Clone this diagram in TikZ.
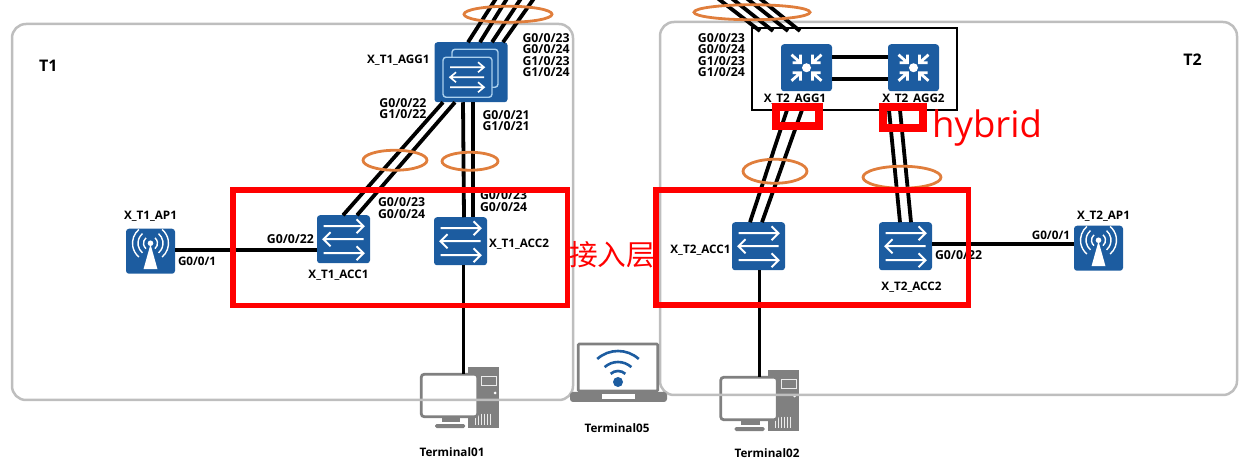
\documentclass[tikz,border=0pt]{standalone}
\usepackage{fontspec}
\setmainfont{Open Sans}
\newfontfamily\cjkfont{Noto Sans CJK SC}
\usepackage{xcolor}
\usetikzlibrary{shapes.geometric, positioning, backgrounds}
\definecolor{devblue}{RGB}{28,92,160}
\definecolor{paleblue}{RGB}{170,208,238}
\definecolor{pcgray}{RGB}{128,128,128}
\definecolor{areagray}{RGB}{190,190,190}
\definecolor{ringorange}{RGB}{224,126,60}

\begin{document}
\begin{tikzpicture}[
        x=1pt, y=1pt,
        area/.style={rectangle, inner sep=0pt, outer sep=0pt, draw=areagray, line width=2.5pt, rounded corners=14pt},
        redbox/.style={rectangle, inner sep=0pt, outer sep=0pt, draw=red},
        frame/.style={rectangle, inner sep=0pt, outer sep=0pt, draw=black, line width=2pt},
        switch/.style={rectangle, rounded corners=3pt, inner sep=0pt, outer sep=0pt, minimum width=53pt, minimum height=48pt, fill=devblue},
        router/.style={switch, minimum width=51pt, minimum height=47pt},
        stack/.style={switch, minimum width=73pt, minimum height=60pt},
        wifi/.style={switch, minimum width=49pt, minimum height=45pt},
        monitor/.style={rectangle, rounded corners=3pt, inner sep=0pt, outer sep=0pt, minimum width=56.5pt, minimum height=42.5pt, draw=pcgray, fill=white, line width=2.8pt},
        laptop/.style={monitor, rounded corners=1pt, minimum width=79.5pt, minimum height=47pt},
        ring/.style={ellipse, inner sep=0pt, outer sep=0pt, draw=ringorange, line width=2.8pt},
        ports/.style={inner sep=0pt, outer sep=0pt, align=center, font=\fontsize{12.3}{11.5}\selectfont\bfseries},
        lbl/.style={ports, text height=8.5pt, text depth=0pt, font=\fontsize{11.7}{11.5}\selectfont\bfseries},
        link/.style={line width=3.8pt},
        pics/swarrows/.style={code={
            \foreach \y/\d in {13/1, 0/-1, -14/1}
                \draw[white, line width=2pt] ({-20*\d},\y) -- ({20*\d},\y) ({13*\d},{\y+7}) -- ({20*\d},\y) -- ({13*\d},{\y-7});
        }},
        pics/stackicon/.style={code={
            \draw[paleblue, line width=1.4pt, rounded corners=3pt] (-19,-15) rectangle (27,23);
            \draw[paleblue, line width=1.4pt, rounded corners=3pt, fill=devblue] (-28,-25) rectangle (21,15);
            \foreach \y/\d in {5/1, -5/-1, -15/1}
                \draw[white, line width=1.6pt] ({-4-17*\d},\y) -- ({-4+17*\d},\y) ({-4+11*\d},{\y+5}) -- ({-4+17*\d},\y) -- ({-4+11*\d},{\y-5});
        }},
        pics/routericon/.style={code={
            \fill[white] (0,0) circle (4.5);
            \foreach \x/\y in {-1/1, 1/1, -1/-1, 1/-1}
                \draw[white, line width=2.8pt] ({15*\x},{13*\y}) -- ({6*\x},{5*\y}) ({14*\x},{5*\y}) -- ({6*\x},{5*\y}) -- ({6*\x},{13*\y});
        }},
        pics/apicon/.style={code={
            \fill[white] (-7,-18) -- (7,-18) -- (0,7) -- cycle;
            \fill[white] (0,8) circle (2.8);
            \foreach \r in {7, 12.5, 18} {
                \draw[white, line width=1.4pt] (0,8) ++ (-50:\r) arc[start angle=-50, end angle=50, radius=\r];
                \draw[white, line width=1.4pt] (0,8) ++ (130:\r) arc[start angle=130, end angle=230, radius=\r];
            }
        }},
        pics/pctower/.style={code={
            \fill[pcgray] (18.5,-32.5) rectangle (49.5,28.5);
            \draw[white!85!pcgray, line width=0.8pt] (32,10.5) rectangle (47,19);
            \fill[white] (45.5,2.5) circle (1.5);
            \foreach \x in {26, 29, ..., 42}
                \draw[white!85!pcgray, line width=1pt] (\x,-18) -- (\x,-29);
            \fill[pcgray] (-8,-26.5) rectangle (10.5,-22.5);
            \fill[pcgray, rounded corners=1.5pt] (-14.5,-32.5) rectangle (15.5,-28.5);
        }},
        pics/laptopicon/.style={code={
            \fill[pcgray, rounded corners=3pt] (-48,-24.5) -- (49,-24.5) -- (49,-34.5) -- (-48,-34.5) -- cycle;
            \fill[white] (-16,-31.5) rectangle (17,-26.5);
            \fill[devblue] (0,-14.5) circle (5);
            \foreach \r in {11, 20, 31}
                \draw[devblue, line width=2.6pt] (0,-14.5) ++ (132:\r) arc[start angle=132, end angle=48, radius=\r];
        }}
    ]

    \useasboundingbox (0,0) rectangle (1242,474);

    \node (t1pc1) [monitor] at (449.5,78.5) {};
    \node (t2pc2) [monitor] at (749,75.5) {};
    \begin{scope}[on background layer]
        \foreach \pc in {t1pc1, t2pc2}
            \pic at (\pc) {pctower};
    \end{scope}

    \node (t1area) [area, minimum width=561pt, minimum height=376pt] at (292.5,262) {};
    \node (t2area) [area, minimum width=577pt, minimum height=373pt] at (948.5,265.5) {};

    \node (t1acc2) [switch, above=109pt of t1pc1, xshift=11pt] {};
    \node (t1acc1) [switch, left=64pt of t1acc2, yshift=2pt] {};
    \node (t1ap) [wifi, left=142pt of t1acc1, yshift=-12pt] {};
    \node (t1agg) [stack, above=115pt of t1acc2, xshift=10.5pt] {};

    \node (t2acc1) [switch, above=107pt of t2pc2, xshift=9.5pt] {};
    \node (t2acc2) [switch, right=94pt of t2acc1] {};
    \node (t2ap) [wifi, right=142pt of t2acc2, yshift=-2pt] {};
    \node (t2agg1) [router, above=131pt of t2acc1, xshift=48pt] {};
    \node (t2agg2) [router, right=56pt of t2agg1] {};
    \node (t2frame) [frame, minimum width=205pt, minimum height=82pt] at (854.5,405) {};

    \node (t5pc) [laptop, right=100.5pt of t1pc1, yshift=28pt] {};

    \pic at (t1acc1) {swarrows};
    \pic at (t1acc2) {swarrows};
    \pic at (t2acc1) {swarrows};
    \pic at (t2acc2) {swarrows};
    \pic at (t1agg) {stackicon};
    \pic at (t2agg1) {routericon};
    \pic at (t2agg2) {routericon};
    \pic at (t1ap) {apicon};
    \pic at (t2ap) {apicon};
    \pic at (t5pc) {laptopicon};

    \coordinate (t1up) at (516,477);
    \coordinate (t2up) at (737,477);

    \foreach \a/\b in {-3/-19, 9/-8, 21/6, 32/19}
        \draw [link] ([xshift=\a pt]t1agg.north) -- ([xshift=\b pt]t1up);
    \foreach \a/\b in {-94.5/-21, -81.5/-7, -66.5/8, -54.5/21}
        \draw [link] ([shift={(\a pt,-3pt)}]t2frame.north) -- ([xshift=\b pt]t2up);
    \foreach \a/\b in {-28/-0.5, -16/13.5}
        \draw [link] ([xshift=\a pt]t1agg.south) -- ([xshift=\b pt]t1acc1.north);
    \foreach \a/\b in {-8/3.5, 2/12.5}
        \draw [link] ([xshift=\a pt]t1agg.south) -- ([xshift=\b pt]t1acc2.north);
    \foreach \a/\b in {-67.5/-8.5, -52.5/3.5}
        \draw [link] ([xshift=\a pt]t2frame.south) -- ([xshift=\b pt]t2acc1.north);
    \foreach \a/\b in {34.5/-5.5, 45.5/5.5}
        \draw [link] ([xshift=\a pt]t2frame.south) -- ([xshift=\b pt]t2acc2.north);
    \foreach \d in {11, -11}
        \draw [link] ([yshift=\d pt]t2agg1.east) -- ([yshift=\d pt]t2agg2.west);
    \draw [link] (t1ap.east |- 0,224) -- (t1acc1.west |- 0,224);
    \draw [link] (t2acc2.east |- 0,230) -- (t2ap.west |- 0,230);
    \draw [link] ([xshift=3pt]t1acc2.south) -- ([xshift=3pt]t1acc2.south |- t1pc1.north);
    \draw [link] ([xshift=1pt]t2acc1.south) -- ([xshift=1pt]t2acc1.south |- t2pc2.north);

    \node (t1ringup) [ring, minimum width=88pt, minimum height=16pt, above=20pt of t1agg, xshift=37pt] {};
    \node (t1ring1) [ring, minimum width=64pt, minimum height=20pt, below=48pt of t1agg, xshift=-76pt] {};
    \node (t1ring2) [ring, minimum width=56pt, minimum height=18pt, below=50pt of t1agg, xshift=-1pt] {};
    \node (t2ringup) [ring, minimum width=116pt, minimum height=15pt, above=24.5pt of t2agg1, xshift=-54.5pt] {};
    \node (t2ring1) [ring, minimum width=64pt, minimum height=24pt, below=68pt of t2agg1, xshift=-31.5pt] {};
    \node (t2ring2) [ring, minimum width=78pt, minimum height=22pt, below=75pt of t2agg2, xshift=-11.5pt] {};

    \node (t1name) [font=\fontsize{16}{16}\selectfont\bfseries, inner sep=0pt, below right=36pt and 27pt of t1area.north west] {T1};
    \node (t2name) [font=\fontsize{16}{16}\selectfont\bfseries, inner sep=0pt, below left=32pt and 35pt of t2area.north east] {T2};

    \node (t1aggname) [lbl, left=5pt of t1agg, yshift=13pt] {X\_T1\_AGG1};
    \node (t1aggup) [ports, right=15pt of t1agg, yshift=17pt] {G0/0/23\\G0/0/24\\G1/0/23\\G1/0/24};
    \node (t1aggleft) [ports, below left=-4pt and 8pt of t1agg] {G0/0/22\\G1/0/22};
    \node (t1aggright) [ports, below right=8pt and -25pt of t1agg] {G0/0/21\\G1/0/21};
    \node (t1acc1up) [ports, above right=-3pt and 8pt of t1acc1] {G0/0/23\\G0/0/24};
    \node (t1acc2up) [ports, above right=6pt and -7pt of t1acc2] {G0/0/23\\G0/0/24};
    \node (t1acc1port) [lbl, left=3pt of t1acc1, font=\fontsize{12.3}{11.5}\selectfont\bfseries] {G0/0/22};
    \node (t1apport) [lbl, right=3pt of t1ap, yshift=-10pt] {G0/0/1};
    \node (t1apname) [lbl, above=8.75pt of t1ap] {X\_T1\_AP1};
    \node (t1acc1name) [lbl, below=6.75pt of t1acc1, xshift=-5pt] {X\_T1\_ACC1};
    \node (t1acc2name) [lbl, right=2pt of t1acc2, yshift=-2pt] {X\_T1\_ACC2};
    \node (t1pcname) [lbl, below=31pt of t1pc1, xshift=2.5pt] {Terminal01};
    \node (t5pcname) [lbl, below=32.75pt of t5pc, xshift=-1pt] {Terminal05};
    \node (t2pcname) [lbl, below=29pt of t2pc2, xshift=18pt] {Terminal02};

    \node (t2aggup) [ports, left=7pt of t2frame, yshift=14pt] {G0/0/23\\G0/0/24\\G1/0/23\\G1/0/24};
    \node (t2agg1name) [lbl, below=2.75pt of t2agg1, xshift=-11.5pt] {X\_T2\_AGG1};
    \node (t2agg2name) [lbl, below=2.75pt of t2agg2] {X\_T2\_AGG2};
    \node (t2acc1name) [lbl, left=1.5pt of t2acc1, yshift=-3.5pt] {X\_T2\_ACC1};
    \node (t2acc2name) [lbl, below=11.75pt of t2acc2, xshift=6pt] {X\_T2\_ACC2};
    \node (t2acc2port) [lbl, right=3pt of t2acc2, yshift=-9.5pt, font=\fontsize{12.3}{11.5}\selectfont\bfseries] {G0/0/22};
    \node (t2apport) [lbl, left=4pt of t2ap, yshift=12.5pt] {G0/0/1};
    \node (t2apname) [lbl, above=5.75pt of t2ap, xshift=5pt] {X\_T2\_AP1};

    \node (t1access) [redbox, line width=5.5pt, minimum width=334.5pt, minimum height=115.5pt] at (400.25,226.25) {};
    \node (t2access) [redbox, line width=5.5pt, minimum width=312.5pt, minimum height=115pt, right=88.5pt of t1access, yshift=0pt] {};
    \node (t2port1) [redbox, line width=8pt, minimum width=43pt, minimum height=18.5pt] at (797.5,357.25) {};
    \node (t2port2) [redbox, line width=8pt, minimum width=40pt, minimum height=21pt, right=64pt of t2port1, yshift=-1.25pt] {};

    \node (hybridname) [text=red, inner sep=0pt, font=\fontsize{36.5}{36}\selectfont, right=9pt of t2port2, yshift=-10pt] {hybrid};
    \node (accessname) [text=red, inner sep=0pt, font=\cjkfont\fontsize{28.7}{28.7}\selectfont, right=1.5pt of t1access, yshift=-7pt] {接入层};

\end{tikzpicture}
\end{document}
